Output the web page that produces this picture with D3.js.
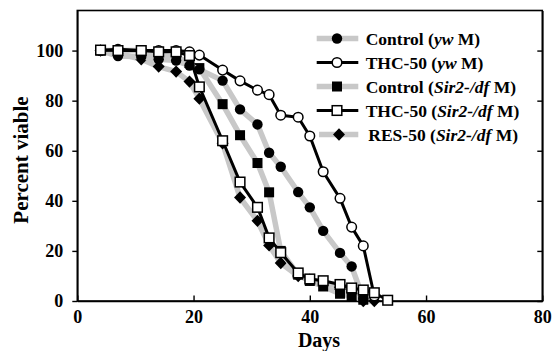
<!DOCTYPE html>
<html><head><meta charset="utf-8">
<script src="https://cdn.jsdelivr.net/npm/d3@7"></script>
<style>body{margin:0;background:#fff}</style>
</head><body><svg id="c" width="553" height="351"></svg>
<script>
const days = [4,7,11,14,17,19.3,21,25,28,31,33,35,38,40,42.3,45.2,47.2,49.2,51.1,53.4];
const controlYw   = [100,97.8,97.5,96.5,96,94,92.5,88,76.5,70.5,59.2,53.6,43.5,37.4,28,19.2,13.8,1,null,null];
const thcYw       = [100,100.5,100,100,100,99.5,98.2,92.2,87.9,84.2,82.4,74.2,73.4,65.9,51.6,41,29.5,22,2,null];
const controlSir2 = [100,100,100,98,97.5,95,93,78.6,66.2,55.1,43.4,20,10.5,8,5.8,2.9,2,0.5,null,null];
const thcSir2     = [100.2,100,100,99.5,99.5,98,85.5,64,47.5,37.4,25.2,19.3,11.2,8.8,8.1,6.6,5.2,4.4,3.3,0.3];
const res50       = [100,99,96.5,93.6,91.6,87.6,80.8,63,41.3,32,22.2,15.2,10,8.5,7.5,5.5,3,0,0,null];
const xTicks = [0,20,40,60,80];
const yTicks = [0,20,40,60,80,100];
const legendLabels = [
  ["Control (", "yw", " M)"],
  ["THC-50 (", "yw", " M)"],
  ["Control (", "Sir2-/df", " M)"],
  ["THC-50 (", "Sir2-/df", " M)"],
  ["RES-50 (", "Sir2-/df", " M)"]
];

const GREY = "#c8c8c8";
const series = [
  {name:"res", vals:res50, line:"grey", marker:"diamond"},
  {name:"cs", vals:controlSir2, line:"grey", marker:"fsquare"},
  {name:"cy", vals:controlYw, line:"grey", marker:"fcircle"},
  {name:"ty", vals:thcYw, line:"black", marker:"ocircle"},
  {name:"ts", vals:thcSir2, line:"black", marker:"osquare"}
];

const svg = d3.select("#c");
const x = d3.scaleLinear().domain([0,80]).range([77.3,542.3]);
const y = d3.scaleLinear().domain([0,116]).range([301,10.5]);
const font = "'Liberation Serif','Times New Roman',serif";

svg.append("rect").attr("x",x(0)).attr("y",y(116)).attr("width",x(80)-x(0)).attr("height",y(0)-y(116))
  .attr("fill","none").attr("stroke","#000").attr("stroke-width",1.6);

const xAxis = svg.append("g").attr("transform",`translate(0,${y(0)})`)
  .call(d3.axisBottom(x).tickValues(xTicks).tickSizeInner(-5.5).tickSizeOuter(0).tickPadding(9));
const yAxis = svg.append("g").attr("transform",`translate(${x(0)},0)`)
  .call(d3.axisLeft(y).tickValues(yTicks).tickSizeInner(5).tickSizeOuter(0).tickPadding(9));
const yAxisR = svg.append("g").attr("transform",`translate(${x(80)},0)`)
  .call(d3.axisRight(y).tickValues(yTicks).tickSizeInner(-5).tickSizeOuter(0).tickFormat(""));
[xAxis,yAxis,yAxisR].forEach(g=>{
  g.select(".domain").attr("stroke-width",1.6);
  g.selectAll(".tick line").attr("stroke-width",1.4);
  g.selectAll("text").attr("font-family",font).attr("font-weight","bold").attr("font-size",18).attr("fill","#000");
});
xAxis.selectAll("text").attr("dy","0.71em");

svg.append("text").attr("x",319).attr("y",347).attr("text-anchor","middle")
  .attr("font-family",font).attr("font-weight","bold").attr("font-size",20).text("Days");
svg.append("text").attr("transform","translate(28,160) rotate(-90)").attr("text-anchor","middle")
  .attr("font-family",font).attr("font-weight","bold").attr("font-size",21).text("Percent viable");

function drawMarker(g, type, cx, cy){
  if(type==="fcircle") g.append("circle").attr("cx",cx).attr("cy",cy).attr("r",5.2).attr("fill","#000");
  else if(type==="ocircle") g.append("circle").attr("cx",cx).attr("cy",cy).attr("r",4.8).attr("fill","#fff").attr("stroke","#000").attr("stroke-width",1.5);
  else if(type==="fsquare") g.append("rect").attr("x",cx-5).attr("y",cy-5).attr("width",10).attr("height",10).attr("fill","#000");
  else if(type==="osquare") g.append("rect").attr("x",cx-4.8).attr("y",cy-4.8).attr("width",9.6).attr("height",9.6).attr("fill","#fff").attr("stroke","#000").attr("stroke-width",1.5);
  else if(type==="diamond") g.append("path").attr("d",`M${cx},${cy-6.2}L${cx+6},${cy}L${cx},${cy+6.2}L${cx-6},${cy}Z`).attr("fill","#000");
}

const line = d3.line().x(d=>x(d[0])).y(d=>y(d[1]));
series.forEach(s=>{
  const pts = days.map((d,i)=>[d,s.vals[i]]).filter(p=>p[1]!=null);
  const g = svg.append("g");
  g.append("path").attr("d",line(pts)).attr("fill","none")
    .attr("stroke", s.line==="grey"?GREY:"#000").attr("stroke-width", s.line==="grey"?5.5:3)
    .attr("stroke-linejoin","round");
  pts.forEach(p=>drawMarker(g, s.marker, x(p[0]), y(p[1])));
});

const legOrder = [
  {line:"grey", marker:"fcircle"},
  {line:"black", marker:"ocircle"},
  {line:"grey", marker:"fsquare"},
  {line:"black", marker:"osquare"},
  {line:"grey", marker:"diamond"}
];
legOrder.forEach((l,i)=>{
  const cy = 38.5 + i*24;
  const g = svg.append("g");
  const x0 = i===4?319:316.7, x1 = 358.3;
  g.append("line").attr("x1",x0).attr("x2",x1).attr("y1",cy).attr("y2",cy)
    .attr("stroke", l.line==="grey"?GREY:"#000").attr("stroke-width", l.line==="grey"?5.5:3);
  drawMarker(g, l.marker, i===4?339:337, cy);
  const t = g.append("text").attr("x", i===4?368.3:365.7).attr("y",cy).attr("dy","0.35em")
    .attr("font-family",font).attr("font-weight","bold").attr("font-size",17.5);
  const lab = legendLabels[i];
  t.append("tspan").text(lab[0]);
  t.append("tspan").attr("font-style","italic").text(lab[1]);
  t.append("tspan").text(lab[2]);
});
</script></body></html>
